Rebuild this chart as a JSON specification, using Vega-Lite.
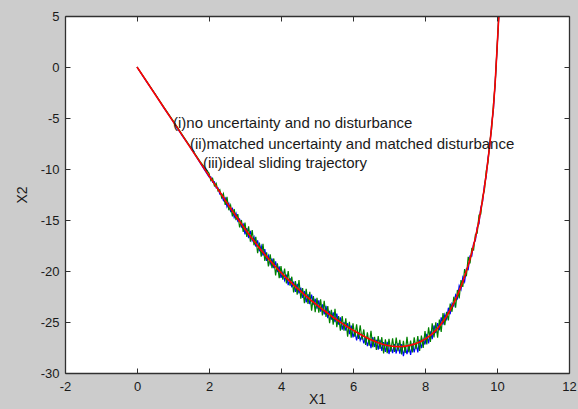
{
"$schema": "https://vega.github.io/schema/vega-lite/v6.json",
"width": 504, "height": 357,
"autosize": {"type": "none"},
"padding": {"left": 65, "top": 16, "right": 9, "bottom": 36},
"background": "#cccccc",
"config": {
  "view": {"fill": null, "stroke": null},
  "axis": {"grid": false, "domainColor": "#303030", "tickColor": "#303030", "labelColor": "#1a1a1a", "titleColor": "#1a1a1a", "labelFont": "Liberation Sans", "titleFont": "Liberation Sans", "labelFontSize": 13, "titleFontSize": 14, "titleFontWeight": "normal", "labelFlush": false, "labelOverlap": false, "ticks": true, "tickSize": -5, "domainWidth": 1.3, "tickWidth": 1}
},
"data": {"values": [
{"x":0,"r":0,"b":0,"g":0},
{"x":0.25,"r":-1.33,"b":-1.36,"g":-1.3},
{"x":0.5,"r":-2.67,"b":-2.64,"g":-2.62},
{"x":0.75,"r":-4.0,"b":-4.04,"g":-3.95},
{"x":1.0,"r":-5.33,"b":-5.3,"g":-5.26},
{"x":1.25,"r":-6.66,"b":-6.71,"g":-6.6},
{"x":1.5,"r":-8.0,"b":-7.96,"g":-7.92},
{"x":1.75,"r":-9.33,"b":-9.39,"g":-9.25},
{"x":2.0,"r":-10.66,"b":-10.78,"g":-10.42},
{"x":2.05,"r":-10.93,"b":-10.77,"g":-11.13},
{"x":2.1,"r":-11.19,"b":-11.31,"g":-10.91},
{"x":2.15,"r":-11.46,"b":-11.26,"g":-11.66},
{"x":2.2,"r":-11.73,"b":-11.85,"g":-11.41},
{"x":2.25,"r":-12.0,"b":-11.84,"g":-12.16},
{"x":2.3,"r":-12.26,"b":-12.46,"g":-12.02},
{"x":2.35,"r":-12.53,"b":-12.45,"g":-12.81},
{"x":2.4,"r":-12.8,"b":-13.1,"g":-12.42},
{"x":2.45,"r":-13.07,"b":-12.84,"g":-13.52},
{"x":2.5,"r":-13.33,"b":-13.71,"g":-12.73},
{"x":2.55,"r":-13.59,"b":-13.36,"g":-14.04},
{"x":2.6,"r":-13.85,"b":-14.15,"g":-13.55},
{"x":2.65,"r":-14.11,"b":-13.88,"g":-14.64},
{"x":2.7,"r":-14.37,"b":-14.75,"g":-13.92},
{"x":2.75,"r":-14.63,"b":-14.33,"g":-15.01},
{"x":2.8,"r":-14.88,"b":-15.11,"g":-14.43},
{"x":2.85,"r":-15.13,"b":-14.9,"g":-15.73},
{"x":2.9,"r":-15.38,"b":-15.68,"g":-15.0},
{"x":2.95,"r":-15.63,"b":-15.4,"g":-16.16},
{"x":3.0,"r":-15.88,"b":-16.41,"g":-15.25},
{"x":3.05,"r":-16.12,"b":-15.8,"g":-16.65},
{"x":3.1,"r":-16.36,"b":-16.78,"g":-15.62},
{"x":3.15,"r":-16.6,"b":-16.07,"g":-17.13},
{"x":3.2,"r":-16.83,"b":-17.04,"g":-15.99},
{"x":3.25,"r":-17.06,"b":-16.64,"g":-17.48},
{"x":3.3,"r":-17.29,"b":-17.61,"g":-16.66},
{"x":3.35,"r":-17.52,"b":-16.99,"g":-18.26},
{"x":3.4,"r":-17.74,"b":-18.06,"g":-17.21},
{"x":3.45,"r":-17.96,"b":-17.54,"g":-18.59},
{"x":3.5,"r":-18.17,"b":-18.49,"g":-17.33},
{"x":3.55,"r":-18.38,"b":-17.85,"g":-19.01},
{"x":3.6,"r":-18.59,"b":-19.01,"g":-18.17},
{"x":3.65,"r":-18.8,"b":-18.48,"g":-19.54},
{"x":3.7,"r":-19.0,"b":-19.32,"g":-18.37},
{"x":3.75,"r":-19.2,"b":-18.78,"g":-19.73},
{"x":3.8,"r":-19.4,"b":-19.72,"g":-18.77},
{"x":3.85,"r":-19.59,"b":-19.06,"g":-20.43},
{"x":3.9,"r":-19.78,"b":-20.1,"g":-19.25},
{"x":3.95,"r":-19.97,"b":-19.55,"g":-20.71},
{"x":4.0,"r":-20.15,"b":-20.68,"g":-19.52},
{"x":4.05,"r":-20.33,"b":-20.12,"g":-20.86},
{"x":4.1,"r":-20.5,"b":-20.92,"g":-19.76},
{"x":4.15,"r":-20.68,"b":-20.36,"g":-21.21},
{"x":4.2,"r":-20.85,"b":-21.38,"g":-20.01},
{"x":4.25,"r":-21.02,"b":-20.7,"g":-21.44},
{"x":4.3,"r":-21.19,"b":-21.61,"g":-20.56},
{"x":4.35,"r":-21.36,"b":-21.04,"g":-22.1},
{"x":4.4,"r":-21.52,"b":-22.05,"g":-20.99},
{"x":4.45,"r":-21.68,"b":-21.26,"g":-22.31},
{"x":4.5,"r":-21.84,"b":-22.2,"g":-20.88},
{"x":4.55,"r":-22.0,"b":-21.64,"g":-22.72},
{"x":4.6,"r":-22.16,"b":-22.64,"g":-21.68},
{"x":4.65,"r":-22.32,"b":-21.96,"g":-23.16},
{"x":4.7,"r":-22.47,"b":-23.07,"g":-21.75},
{"x":4.75,"r":-22.62,"b":-22.26,"g":-23.22},
{"x":4.8,"r":-22.77,"b":-23.25,"g":-22.05},
{"x":4.85,"r":-22.92,"b":-22.32,"g":-23.88},
{"x":4.9,"r":-23.06,"b":-23.3,"g":-22.46},
{"x":4.95,"r":-23.2,"b":-22.72,"g":-24.04},
{"x":5.0,"r":-23.34,"b":-23.7,"g":-22.62},
{"x":5.05,"r":-23.48,"b":-22.88,"g":-24.08},
{"x":5.1,"r":-23.62,"b":-23.98,"g":-22.78},
{"x":5.15,"r":-23.76,"b":-23.28,"g":-24.36},
{"x":5.2,"r":-23.89,"b":-24.25,"g":-22.93},
{"x":5.25,"r":-24.02,"b":-23.42,"g":-24.5},
{"x":5.3,"r":-24.15,"b":-24.63,"g":-23.43},
{"x":5.35,"r":-24.28,"b":-23.92,"g":-25.12},
{"x":5.4,"r":-24.41,"b":-24.77,"g":-23.81},
{"x":5.45,"r":-24.54,"b":-24.06,"g":-25.26},
{"x":5.5,"r":-24.66,"b":-25.02,"g":-23.7},
{"x":5.55,"r":-24.78,"b":-24.18,"g":-25.5},
{"x":5.6,"r":-24.9,"b":-25.26,"g":-24.42},
{"x":5.65,"r":-25.02,"b":-24.54,"g":-25.86},
{"x":5.7,"r":-25.14,"b":-25.74,"g":-24.42},
{"x":5.75,"r":-25.26,"b":-25.02,"g":-25.86},
{"x":5.8,"r":-25.37,"b":-25.85,"g":-24.65},
{"x":5.85,"r":-25.48,"b":-25.12,"g":-26.44},
{"x":5.9,"r":-25.59,"b":-26.19,"g":-24.99},
{"x":5.95,"r":-25.7,"b":-25.34,"g":-26.54},
{"x":6.0,"r":-25.8,"b":-26.5,"g":-25.14},
{"x":6.05,"r":-25.9,"b":-25.9,"g":-26.45},
{"x":6.1,"r":-26.0,"b":-26.8,"g":-25.23},
{"x":6.15,"r":-26.1,"b":-26.0,"g":-26.65},
{"x":6.2,"r":-26.2,"b":-26.8,"g":-25.32},
{"x":6.25,"r":-26.3,"b":-26.3,"g":-26.74},
{"x":6.3,"r":-26.39,"b":-27.09,"g":-25.73},
{"x":6.35,"r":-26.48,"b":-26.48,"g":-27.25},
{"x":6.4,"r":-26.57,"b":-27.37,"g":-26.02},
{"x":6.45,"r":-26.66,"b":-26.66,"g":-27.32},
{"x":6.5,"r":-26.74,"b":-27.56,"g":-25.86},
{"x":6.55,"r":-26.82,"b":-26.47,"g":-27.48},
{"x":6.6,"r":-26.89,"b":-27.45,"g":-26.45},
{"x":6.65,"r":-26.96,"b":-26.74,"g":-27.73},
{"x":6.7,"r":-27.03,"b":-27.72,"g":-26.37},
{"x":6.75,"r":-27.09,"b":-26.74,"g":-27.64},
{"x":6.8,"r":-27.15,"b":-27.84,"g":-26.49},
{"x":6.85,"r":-27.2,"b":-26.98,"g":-28.08},
{"x":6.9,"r":-27.25,"b":-27.94,"g":-26.7},
{"x":6.95,"r":-27.29,"b":-26.94,"g":-28.06},
{"x":7.0,"r":-27.32,"b":-28.14,"g":-26.66},
{"x":7.05,"r":-27.35,"b":-27.26,"g":-27.9},
{"x":7.1,"r":-27.37,"b":-28.06,"g":-26.6},
{"x":7.15,"r":-27.39,"b":-27.17,"g":-27.94},
{"x":7.2,"r":-27.4,"b":-28.09,"g":-26.52},
{"x":7.25,"r":-27.41,"b":-27.06,"g":-27.85},
{"x":7.3,"r":-27.41,"b":-28.1,"g":-26.75},
{"x":7.35,"r":-27.4,"b":-27.18,"g":-28.17},
{"x":7.4,"r":-27.39,"b":-28.34,"g":-26.84},
{"x":7.45,"r":-27.37,"b":-27.41,"g":-28.03},
{"x":7.5,"r":-27.34,"b":-28.16,"g":-26.46},
{"x":7.55,"r":-27.31,"b":-27.22,"g":-27.97},
{"x":7.6,"r":-27.27,"b":-28.22,"g":-26.83},
{"x":7.65,"r":-27.22,"b":-27.13,"g":-27.99},
{"x":7.7,"r":-27.17,"b":-27.99,"g":-26.51},
{"x":7.75,"r":-27.11,"b":-27.02,"g":-27.66},
{"x":7.8,"r":-27.04,"b":-27.99,"g":-26.38},
{"x":7.85,"r":-26.96,"b":-26.74,"g":-27.84},
{"x":7.9,"r":-26.88,"b":-27.57,"g":-26.33},
{"x":7.95,"r":-26.78,"b":-26.69,"g":-27.55},
{"x":8.0,"r":-26.68,"b":-27.2,"g":-25.9},
{"x":8.05,"r":-26.56,"b":-26.17,"g":-27.21},
{"x":8.1,"r":-26.44,"b":-27.09,"g":-25.53},
{"x":8.15,"r":-26.3,"b":-25.91,"g":-26.95},
{"x":8.2,"r":-26.16,"b":-26.68,"g":-25.12},
{"x":8.25,"r":-25.99,"b":-25.34,"g":-26.51},
{"x":8.3,"r":-25.82,"b":-26.08,"g":-25.04},
{"x":8.35,"r":-25.62,"b":-25.1,"g":-26.53},
{"x":8.4,"r":-25.42,"b":-25.81,"g":-24.77},
{"x":8.45,"r":-25.19,"b":-24.54,"g":-25.97},
{"x":8.5,"r":-24.95,"b":-25.26,"g":-24.12},
{"x":8.55,"r":-24.69,"b":-24.27,"g":-25.31},
{"x":8.6,"r":-24.42,"b":-24.73,"g":-24.0},
{"x":8.65,"r":-24.12,"b":-23.6,"g":-24.85},
{"x":8.7,"r":-23.82,"b":-24.24,"g":-23.2},
{"x":8.75,"r":-23.48,"b":-23.17,"g":-24.0},
{"x":8.8,"r":-23.14,"b":-23.45,"g":-22.52},
{"x":8.85,"r":-22.76,"b":-22.34,"g":-23.59},
{"x":8.9,"r":-22.38,"b":-22.69,"g":-21.86},
{"x":8.95,"r":-21.95,"b":-21.43,"g":-22.68},
{"x":9.0,"r":-21.52,"b":-21.83,"g":-20.9},
{"x":9.05,"r":-21.04,"b":-20.62,"g":-21.56},
{"x":9.1,"r":-20.55,"b":-21.07,"g":-19.82},
{"x":9.15,"r":-20.0,"b":-19.79,"g":-20.52},
{"x":9.2,"r":-19.45,"b":-19.87,"g":-18.62},
{"x":9.25,"r":-18.83,"b":-18.52,"g":-19.25},
{"x":9.3,"r":-18.2,"b":-18.53,"g":-17.81},
{"x":9.35,"r":-17.48,"b":-17.28,"g":-17.94},
{"x":9.4,"r":-16.75,"b":-17.01,"g":-16.42},
{"x":9.45,"r":-15.9,"b":-15.7,"g":-16.29},
{"x":9.5,"r":-15.05,"b":-15.38,"g":-14.53},
{"x":9.55,"r":-14.03,"b":-13.77,"g":-14.42},
{"x":9.6,"r":-13.0,"b":-13.2,"g":-12.74},
{"x":9.65,"r":-11.8,"b":-11.6,"g":-12.1},
{"x":9.7,"r":-10.55,"b":-10.75,"g":-10.2},
{"x":9.75,"r":-9.1,"b":-8.9,"g":-9.35},
{"x":9.8,"r":-7.6,"b":-7.8,"g":-7.3},
{"x":9.85,"r":-5.85,"b":-5.7,"g":-6.1},
{"x":9.9,"r":-4.0,"b":-4.2,"g":-3.7},
{"x":9.95,"r":-1.5,"b":-1.5,"g":-1.6},
{"x":10.0,"r":1.7,"b":1.6,"g":1.8},
{"x":10.05,"r":5.0,"b":5.0,"g":5.0}
]},
"layer": [
  {"data": {"values": [{"panel": "plot"}]},
   "mark": {"type": "rect", "color": "white"},
   "encoding": {
     "x": {"datum": -2, "type": "quantitative", "scale": {"domain": [-2, 12], "nice": false, "zero": false},
           "axis": {"orient": "bottom", "zindex": 2, "values": [-2,0,2,4,6,8,10,12], "labelExpr": "'' + datum.value", "labelPadding": 12, "title": "X1", "titlePadding": -1, "tickSize": -5}},
     "x2": {"datum": 12},
     "y": {"datum": -30, "type": "quantitative", "scale": {"domain": [-30, 5], "nice": false, "zero": false},
           "axis": {"orient": "left", "zindex": 2, "values": [-30,-25,-20,-15,-10,-5,0,5], "labelExpr": "'' + datum.value", "labelPadding": 11, "title": "X2", "titlePadding": 11, "tickSize": -5}},
     "y2": {"datum": 5}
   }},
  {"mark": {"type": "line", "color": "#0000ff", "strokeWidth": 1.2, "clip": true},
   "encoding": {
     "x": {"field": "x", "type": "quantitative", "scale": {"domain": [-2, 12], "nice": false, "zero": false},
           "axis": {"orient": "top", "zindex": 2, "values": [-2,0,2,4,6,8,10,12], "labels": false, "title": null, "tickSize": -5}},
     "y": {"field": "b", "type": "quantitative", "scale": {"domain": [-30, 5], "nice": false, "zero": false},
           "axis": {"orient": "right", "zindex": 2, "values": [-30,-25,-20,-15,-10,-5,0,5], "labels": false, "title": null, "tickSize": -5}}
   }},
  {"mark": {"type": "line", "color": "#008000", "strokeWidth": 1.2, "clip": true},
   "encoding": {
     "x": {"field": "x", "type": "quantitative", "scale": {"domain": [-2, 12], "nice": false, "zero": false}, "axis": null},
     "y": {"field": "g", "type": "quantitative", "scale": {"domain": [-30, 5], "nice": false, "zero": false}, "axis": null}
   }},
  {"mark": {"type": "line", "color": "#ff0000", "strokeWidth": 1.6, "clip": true},
   "encoding": {
     "x": {"field": "x", "type": "quantitative", "scale": {"domain": [-2, 12], "nice": false, "zero": false}, "axis": null},
     "y": {"field": "r", "type": "quantitative", "scale": {"domain": [-30, 5], "nice": false, "zero": false}, "axis": null}
   }},
  {"data": {"values": [
     {"x": 1.0, "y": -5.5, "t": "(i)no uncertainty and no disturbance"},
     {"x": 1.47, "y": -7.5, "t": "(ii)matched uncertainty and matched disturbance"},
     {"x": 1.83, "y": -9.4, "t": "(iii)ideal sliding trajectory"}
   ]},
   "mark": {"type": "text", "align": "left", "baseline": "middle", "font": "Liberation Sans", "fontSize": 15, "color": "#1a1a1a"},
   "encoding": {
     "x": {"field": "x", "type": "quantitative", "scale": {"domain": [-2, 12], "nice": false, "zero": false}, "axis": null},
     "y": {"field": "y", "type": "quantitative", "scale": {"domain": [-30, 5], "nice": false, "zero": false}, "axis": null},
     "text": {"field": "t", "type": "nominal"}
   }}
],
"resolve": {"axis": {"x": "independent", "y": "independent"}}
}
